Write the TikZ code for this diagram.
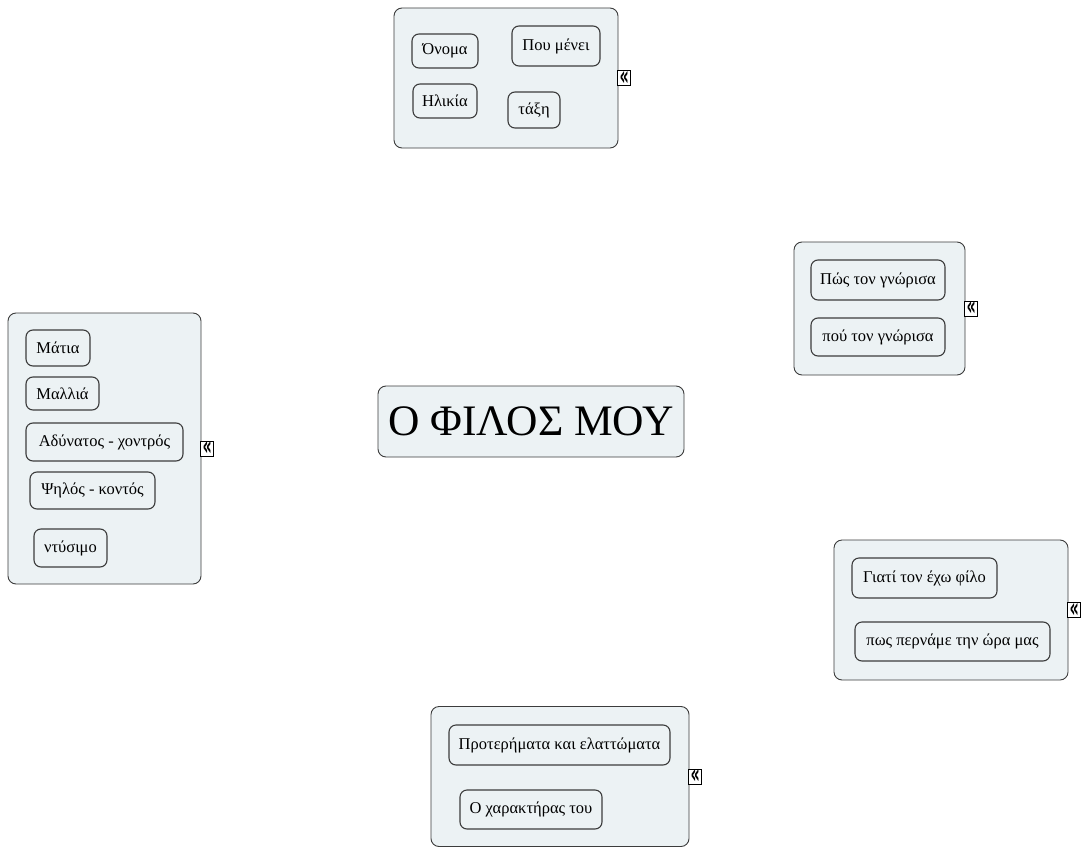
\documentclass[tikz,border=0pt]{standalone}
\usepackage{fontspec}
\setmainfont{Liberation Serif}
\newfontfamily\markfont{DejaVu Sans}
\usetikzlibrary{positioning}
\definecolor{boxfill}{RGB}{236,242,244}
\definecolor{boxline}{RGB}{60,60,60}
\begin{document}
\begin{tikzpicture}[x=1pt, y=-1pt,
	group/.style={draw=boxline, fill=boxfill, rounded corners=8pt, line width=0.9pt, inner sep=0pt},
	topic/.style={draw=boxline, rounded corners=7pt, line width=1.1pt, minimum height=36pt, inner xsep=8pt, font=\fontsize{16.5}{18}\selectfont},
	fold/.style={draw=black, fill=white, line width=0.8pt, inner sep=0pt, minimum width=13pt, minimum height=15pt, anchor=west, font=\markfont\bfseries\fontsize{16}{16}\selectfont}]
	
	\useasboundingbox (0,0) rectangle (1081,848);
	
	% group boxes
	\node [group, minimum width=224pt, minimum height=140pt] (info) at (506,78) {};
	\node [group, minimum width=193pt, minimum height=271pt] (looks) at (104.5,448.5) {};
	\node [group, minimum width=171pt, minimum height=133pt] (met) at (879.5,308.5) {};
	\node [group, minimum width=234pt, minimum height=140pt] (why) at (951,610) {};
	\node [group, minimum width=258pt, minimum height=140pt] (char) at (560,776.5) {};
	
	% central topic
	\node [group, minimum width=306pt, minimum height=71pt, font=\fontsize{43.5}{45}\selectfont] (root) at (531,421.5) {Ο ΦΙΛΟΣ ΜΟΥ};
	
	% fold markers
	\node [fold] (infofold) at ([xshift=-1pt]info.east) {\scalebox{0.9}[1.7]{«}};
	\node [fold] (looksfold) at ([xshift=-1pt]looks.east) {\scalebox{0.9}[1.7]{«}};
	\node [fold] (metfold) at ([xshift=-1pt]met.east) {\scalebox{0.9}[1.7]{«}};
	\node [fold] (whyfold) at ([xshift=-1pt]why.east) {\scalebox{0.9}[1.7]{«}};
	\node [fold] (charfold) at ([xshift=-1pt]char.east) {\scalebox{0.9}[1.7]{«}};
	
	% top
	\node [topic, minimum width=66pt, minimum height=34pt] (name) at (445,51) {Όνομα};
	\node [topic, minimum width=88pt, minimum height=40pt] (home) at (556,46) {Που μένει};
	\node [topic, minimum width=64pt, minimum height=34pt] (age) at (445,101) {Ηλικία};
	\node [topic, minimum width=52pt, minimum height=36pt] (grade) at (534,110) {τάξη};
	
	% left
	\node [topic, minimum width=64pt] (eyes) at (58,348) {Μάτια};
	\node [topic, minimum width=73pt, minimum height=33pt] (hair) at (62.5,393.5) {Μαλλιά};
	\node [topic, minimum width=157pt, minimum height=38pt] (weight) at (104.5,442) {Αδύνατος - χοντρός};
	\node [topic, minimum width=125pt, minimum height=37pt] (height) at (92.5,490.5) {Ψηλός - κοντός};
	\node [topic, minimum width=73pt, minimum height=38pt] (clothes) at (70.5,548) {ντύσιμο};
	
	% right upper
	\node [topic, minimum width=134pt, minimum height=40pt] (how) at (878,280) {Πώς τον γνώρισα};
	\node [topic, minimum width=134pt, minimum height=38pt] (where) at (878,337) {πού τον γνώρισα};
	
	% right lower
	\node [topic, minimum width=145pt, minimum height=40pt] (reason) at (924.5,578) {Γιατί τον έχω φίλο};
	\node [topic, minimum width=195pt, minimum height=39pt] (time) at (952.5,641.5) {πως περνάμε την ώρα μας};
	
	% bottom
	\node [topic, minimum width=221pt, minimum height=40pt] (traits) at (559.5,745) {Προτερήματα και ελαττώματα};
	\node [topic, minimum width=142pt, minimum height=39pt] (nature) at (531,809.5) {Ο χαρακτήρας του};
	
\end{tikzpicture}
\end{document}
